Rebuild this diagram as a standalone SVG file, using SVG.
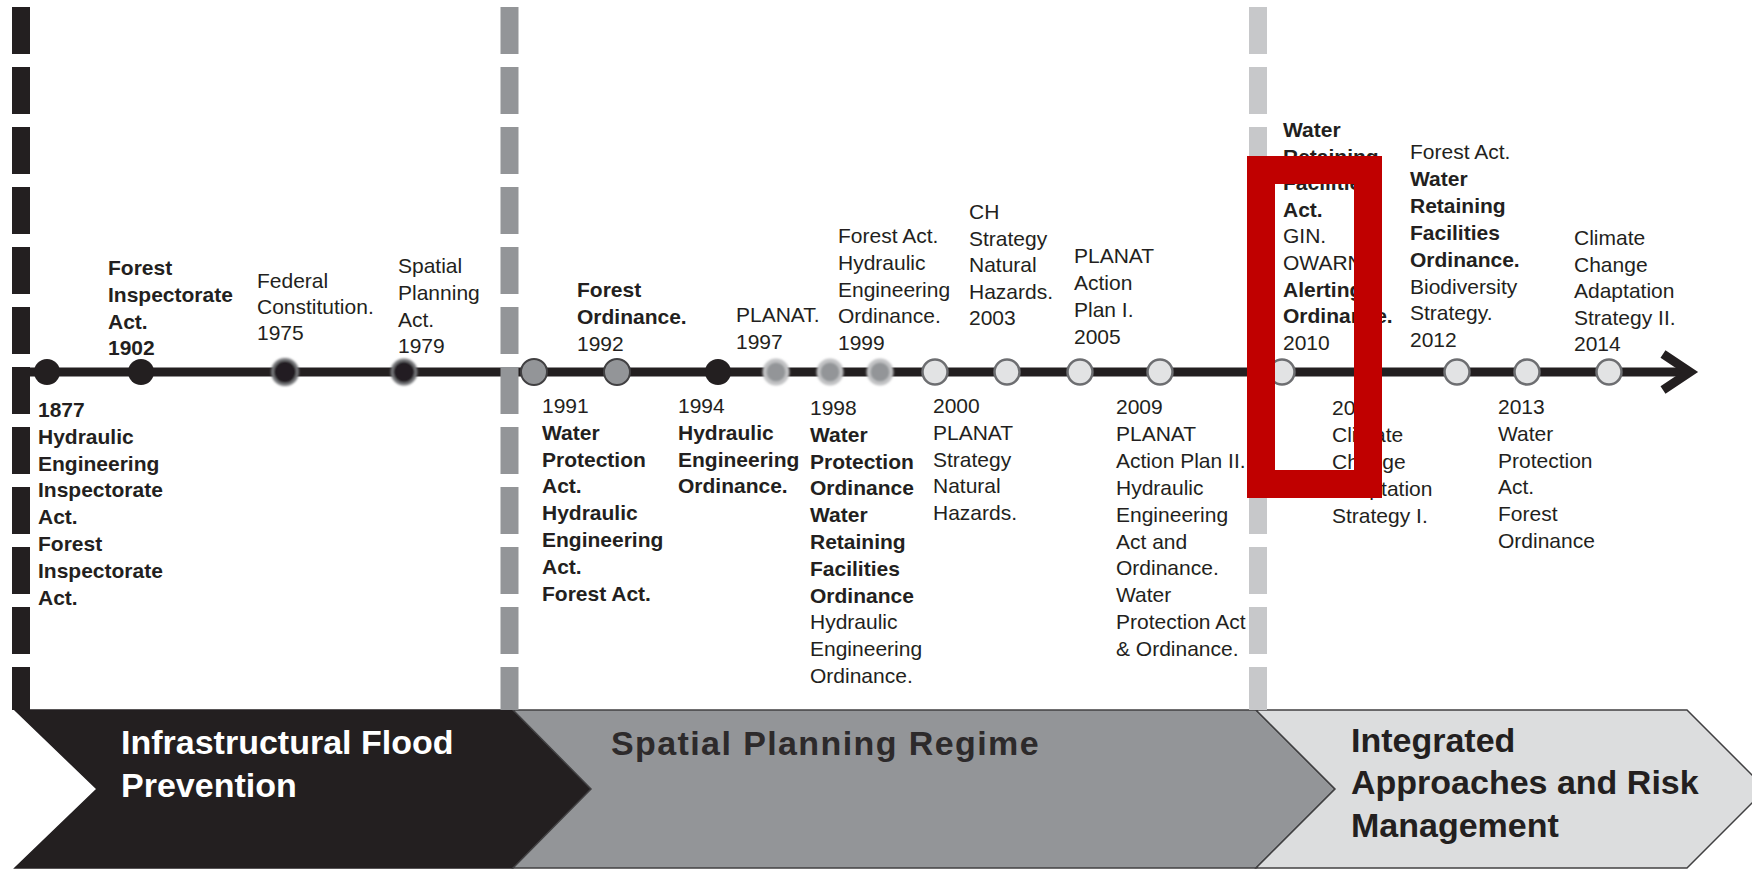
<svg xmlns="http://www.w3.org/2000/svg" width="1752" height="869" viewBox="0 0 1752 869">
<defs>
<style>
.t{font-family:"Liberation Sans",Arial,sans-serif;font-size:21px;fill:#231f20}
.b{font-weight:bold}
.band{font-family:"Liberation Sans",Arial,sans-serif;font-size:34px;font-weight:bold}
.dk{fill:#231f20}
.gy{fill:#939598;stroke:#414042;stroke-width:2}
.hb{fill:#231f20;stroke:#77787b;stroke-width:3;filter:url(#soft)}
.hg{fill:#939598;stroke:#c2c3c5;stroke-width:4;filter:url(#soft)}
.lt{fill:#e2e3e4;stroke:#6d6e71;stroke-width:2.5}
.bar{stroke-width:18;stroke-dasharray:47 13;fill:none}
</style>
<filter id="soft" x="-30%" y="-30%" width="160%" height="160%"><feGaussianBlur stdDeviation="0.9"/></filter>
</defs>
<rect width="1752" height="869" fill="#ffffff"/>

<g id="phases">
<g id="phase-infrastructural">
<polygon points="15,710 513,710 591,789 513,868 15,868 97,789" fill="#231f20" stroke="#231f20" stroke-width="1.5"/>
<text class="band" fill="#ffffff" x="121" y="754">Infrastructural Flood</text>
<text class="band" fill="#ffffff" x="121" y="797">Prevention</text>
</g>
<g id="phase-spatial">
<polygon points="513,710 1256,710 1335,789 1256,868 513,868 591,789" fill="#939598" stroke="#414042" stroke-width="1.5"/>
<text class="band" fill="#2d2a2b" x="611" y="755" letter-spacing="1.4">Spatial Planning Regime</text>
</g>
<g id="phase-integrated">
<polygon points="1256,710 1687,710 1766,789 1687,868 1256,868 1335,789" fill="#dcddde" stroke="#414042" stroke-width="1.5"/>
<text class="band" fill="#231f20" x="1351" y="752">Integrated</text>
<text class="band" fill="#231f20" x="1351" y="794">Approaches and Risk</text>
<text class="band" fill="#231f20" x="1351" y="837">Management</text>
</g>
</g>

<g id="connectors">
<line x1="12" y1="372" x2="1688" y2="372" stroke="#231f20" stroke-width="9"/>
<polyline points="1663,354 1690,372 1663,390" fill="none" stroke="#231f20" stroke-width="9" stroke-linejoin="miter"/>
</g>

<g id="dividers">
<line class="bar" x1="21" y1="7" x2="21" y2="710" stroke="#231f20"/>
<line class="bar" x1="509.5" y1="7" x2="509.5" y2="710" stroke="#939598"/>
<line class="bar" x1="1258" y1="7" x2="1258" y2="710" stroke="#c7c8ca"/>
</g>

<g id="e1877">
<circle class="dk" cx="47" cy="372" r="13"/>
<text class="t b" x="38" y="417"><tspan x="38" dy="0">1877</tspan><tspan x="38" dy="26.8">Hydraulic</tspan><tspan x="38" dy="26.8">Engineering</tspan><tspan x="38" dy="26.8">Inspectorate</tspan><tspan x="38" dy="26.8">Act.</tspan><tspan x="38" dy="26.8">Forest</tspan><tspan x="38" dy="26.8">Inspectorate</tspan><tspan x="38" dy="26.8">Act.</tspan></text>
</g>
<g id="e1902">
<circle class="dk" cx="141" cy="372" r="13"/>
<text class="t b" x="108" y="275"><tspan x="108" dy="0">Forest</tspan><tspan x="108" dy="26.8">Inspectorate</tspan><tspan x="108" dy="26.8">Act.</tspan><tspan x="108" dy="26.8">1902</tspan></text>
</g>
<g id="e1975">
<circle class="hb" cx="285" cy="372" r="12.5"/>
<text class="t" x="257" y="288"><tspan x="257" dy="0">Federal</tspan><tspan x="257" dy="26">Constitution.</tspan><tspan x="257" dy="26">1975</tspan></text>
</g>
<g id="e1979">
<circle class="hb" cx="404" cy="372" r="12"/>
<text class="t" x="398" y="273"><tspan x="398" dy="0">Spatial</tspan><tspan x="398" dy="26.8">Planning</tspan><tspan x="398" dy="26.8">Act.</tspan><tspan x="398" dy="26.8">1979</tspan></text>
</g>
<g id="e1991">
<circle class="gy" cx="534" cy="372" r="13"/>
<text class="t" x="542" y="413"><tspan x="542" dy="0">1991</tspan><tspan class="b" x="542" dy="26.8">Water</tspan><tspan class="b" x="542" dy="26.8">Protection</tspan><tspan class="b" x="542" dy="26.8">Act.</tspan><tspan class="b" x="542" dy="26.8">Hydraulic</tspan><tspan class="b" x="542" dy="26.8">Engineering</tspan><tspan class="b" x="542" dy="26.8">Act.</tspan><tspan class="b" x="542" dy="26.8">Forest Act.</tspan></text>
</g>
<g id="e1992">
<circle class="gy" cx="617" cy="372" r="13"/>
<text class="t" x="577" y="297"><tspan class="b" x="577" dy="0">Forest</tspan><tspan class="b" x="577" dy="26.8">Ordinance.</tspan><tspan x="577" dy="26.8">1992</tspan></text>
</g>
<g id="e1994">
<circle class="dk" cx="718" cy="372" r="13"/>
<text class="t" x="678" y="413"><tspan x="678" dy="0">1994</tspan><tspan class="b" x="678" dy="26.8">Hydraulic</tspan><tspan class="b" x="678" dy="26.8">Engineering</tspan><tspan class="b" x="678" dy="26.8">Ordinance.</tspan></text>
</g>
<g id="e1997">
<circle class="hg" cx="776" cy="372" r="11.5"/>
<text class="t" x="736" y="322"><tspan x="736" dy="0">PLANAT.</tspan><tspan x="736" dy="26.8">1997</tspan></text>
</g>
<g id="e1998">
<circle class="hg" cx="830" cy="372" r="11.5"/>
<text class="t" x="810" y="415"><tspan x="810" dy="0">1998</tspan><tspan class="b" x="810" dy="26.8">Water</tspan><tspan class="b" x="810" dy="26.8">Protection</tspan><tspan class="b" x="810" dy="26.8">Ordinance</tspan><tspan class="b" x="810" dy="26.8">Water</tspan><tspan class="b" x="810" dy="26.8">Retaining</tspan><tspan class="b" x="810" dy="26.8">Facilities</tspan><tspan class="b" x="810" dy="26.8">Ordinance</tspan><tspan x="810" dy="26.8">Hydraulic</tspan><tspan x="810" dy="26.8">Engineering</tspan><tspan x="810" dy="26.8">Ordinance.</tspan></text>
</g>
<g id="e1999">
<circle class="hg" cx="880" cy="372" r="11.5"/>
<text class="t" x="838" y="243"><tspan x="838" dy="0">Forest Act.</tspan><tspan x="838" dy="26.8">Hydraulic</tspan><tspan x="838" dy="26.8">Engineering</tspan><tspan x="838" dy="26.8">Ordinance.</tspan><tspan x="838" dy="26.8">1999</tspan></text>
</g>
<g id="e2000">
<circle class="lt" cx="935" cy="372" r="12.5"/>
<text class="t" x="933" y="413"><tspan x="933" dy="0">2000</tspan><tspan x="933" dy="26.8">PLANAT</tspan><tspan x="933" dy="26.8">Strategy</tspan><tspan x="933" dy="26.8">Natural</tspan><tspan x="933" dy="26.8">Hazards.</tspan></text>
</g>
<g id="e2003">
<circle class="lt" cx="1007" cy="372" r="12.5"/>
<text class="t" x="969" y="219"><tspan x="969" dy="0">CH</tspan><tspan x="969" dy="26.6">Strategy</tspan><tspan x="969" dy="26.6">Natural</tspan><tspan x="969" dy="26.6">Hazards.</tspan><tspan x="969" dy="26.6">2003</tspan></text>
</g>
<g id="e2005">
<circle class="lt" cx="1080" cy="372" r="12.5"/>
<text class="t" x="1074" y="263"><tspan x="1074" dy="0">PLANAT</tspan><tspan x="1074" dy="27">Action</tspan><tspan x="1074" dy="27">Plan I.</tspan><tspan x="1074" dy="27">2005</tspan></text>
</g>
<g id="e2009">
<circle class="lt" cx="1160" cy="372" r="12.5"/>
<text class="t" x="1116" y="414"><tspan x="1116" dy="0">2009</tspan><tspan x="1116" dy="26.9">PLANAT</tspan><tspan x="1116" dy="26.9">Action Plan II.</tspan><tspan x="1116" dy="26.9">Hydraulic</tspan><tspan x="1116" dy="26.9">Engineering</tspan><tspan x="1116" dy="26.9">Act and</tspan><tspan x="1116" dy="26.9">Ordinance.</tspan><tspan x="1116" dy="26.9">Water</tspan><tspan x="1116" dy="26.9">Protection Act</tspan><tspan x="1116" dy="26.9">&amp; Ordinance.</tspan></text>
</g>
<g id="e2010">
<circle class="lt" cx="1282" cy="372" r="12.5"/>
<text class="t" x="1283" y="137"><tspan class="b" x="1283" dy="0">Water</tspan><tspan class="b" x="1283" dy="26.6">Retaining</tspan><tspan class="b" x="1283" dy="26.6">Facilities</tspan><tspan class="b" x="1283" dy="26.6">Act.</tspan><tspan x="1283" dy="26.6">GIN.</tspan><tspan x="1283" dy="26.6">OWARNA.</tspan><tspan class="b" x="1283" dy="26.6">Alerting</tspan><tspan class="b" x="1283" dy="26.6">Ordinance.</tspan><tspan x="1283" dy="26.6">2010</tspan></text>
</g>
<g id="e2011">
<text class="t" x="1332" y="415"><tspan x="1332" dy="0">2011</tspan><tspan x="1332" dy="27">Climate</tspan><tspan x="1332" dy="27">Change</tspan><tspan x="1332" dy="27">Adaptation</tspan><tspan x="1332" dy="27">Strategy I.</tspan></text>
</g>
<g id="e2012">
<circle class="lt" cx="1457" cy="372" r="12.5"/>
<text class="t" x="1410" y="159"><tspan x="1410" dy="0">Forest Act.</tspan><tspan class="b" x="1410" dy="26.9">Water</tspan><tspan class="b" x="1410" dy="26.9">Retaining</tspan><tspan class="b" x="1410" dy="26.9">Facilities</tspan><tspan class="b" x="1410" dy="26.9">Ordinance.</tspan><tspan x="1410" dy="26.9">Biodiversity</tspan><tspan x="1410" dy="26.9">Strategy.</tspan><tspan x="1410" dy="26.9">2012</tspan></text>
</g>
<g id="e2013">
<circle class="lt" cx="1527" cy="372" r="12.5"/>
<text class="t" x="1498" y="414"><tspan x="1498" dy="0">2013</tspan><tspan x="1498" dy="26.8">Water</tspan><tspan x="1498" dy="26.8">Protection</tspan><tspan x="1498" dy="26.8">Act.</tspan><tspan x="1498" dy="26.8">Forest</tspan><tspan x="1498" dy="26.8">Ordinance</tspan></text>
</g>
<g id="e2014">
<circle class="lt" cx="1609" cy="372" r="12.5"/>
<text class="t" x="1574" y="245"><tspan x="1574" dy="0">Climate</tspan><tspan x="1574" dy="26.5">Change</tspan><tspan x="1574" dy="26.5">Adaptation</tspan><tspan x="1574" dy="26.5">Strategy II.</tspan><tspan x="1574" dy="26.5">2014</tspan></text>
</g>

<g id="highlight">
<rect x="1261" y="170" width="107" height="314" fill="none" stroke="#c00000" stroke-width="28"/>
</g>
</svg>
